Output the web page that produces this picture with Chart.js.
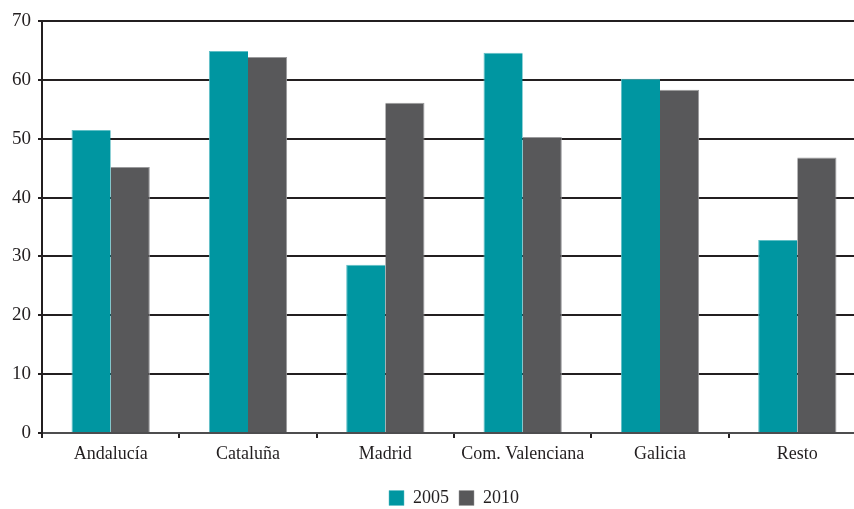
<!DOCTYPE html>
<html>
<head>
<meta charset="utf-8">
<script src="https://cdn.jsdelivr.net/npm/chart.js@4/dist/chart.umd.min.js"></script>
<style>
  html, body { margin: 0; padding: 0; background: #fff; }
  /* the reference plot runs past the right and bottom edges, so the canvas is a bit larger and clipped */
  #wrap { width: 854px; height: 509px; overflow: hidden; }
</style>
</head>
<body>
<div id="wrap"><canvas id="regionChart" width="866" height="517"></canvas></div>
<script>
// data
const regions = ['Andalucía', 'Cataluña', 'Madrid', 'Com. Valenciana', 'Galicia', 'Resto'];
const values2005 = [51.5, 64.9, 28.6, 64.6, 60.2, 32.8];
const values2010 = [45.2, 63.9, 56.1, 50.3, 58.3, 46.8];
const yTicks = [0, 10, 20, 30, 40, 50, 60, 70];

const serif = '"Liberation Serif", "DejaVu Serif", serif';
const teal = '#0096a1';
const grey = '#58585a';

new Chart(document.getElementById('regionChart'), {
  type: 'bar',
  data: {
    labels: regions,
    datasets: [
      { label: '2005', data: values2005, backgroundColor: teal, borderColor: '#5fbfc6', borderWidth: { top: 1, left: 1, right: 0, bottom: 0 }, borderSkipped: 'bottom' },
      { label: '2010', data: values2010, backgroundColor: grey, borderColor: '#9a9a9c', borderWidth: { top: 1, left: 0, right: 1, bottom: 0 }, borderSkipped: 'bottom' }
    ]
  },
  options: {
    responsive: false,
    animation: false,
    layout: { padding: { top: 21, right: 0, left: 0, bottom: 0 } },
    datasets: {
      bar: { categoryPercentage: 0.57, barPercentage: 1.0 }
    },
    plugins: {
      tooltip: { enabled: false },
      legend: {
        position: 'bottom',
        fullSize: false, // centred under the plot area, like the reference
        labels: {
          boxWidth: 15,
          boxHeight: 15,
          padding: 10,
          color: '#231f20',
          font: { family: serif, size: 18 }
        }
      }
    },
    scales: {
      x: {
        grid: {
          offset: true,
          drawOnChartArea: false,
          drawTicks: true,
          tickLength: 5,
          color: '#231f20',
          lineWidth: 2
        },
        border: { color: '#4d4d4f', width: 2 },
        ticks: {
          color: '#231f20',
          padding: 5,
          font: { family: serif, size: 18 }
        },
        afterFit(scale) { scale.height = 46; }
      },
      y: {
        min: 0,
        max: 70,
        afterBuildTicks(scale) { scale.ticks = yTicks.map(v => ({ value: v })); },
        grid: {
          color: '#231f20',
          lineWidth: 2,
          drawTicks: true,
          tickLength: 4
        },
        border: { color: '#231f20', width: 2 },
        ticks: {
          color: '#231f20',
          padding: 7,
          font: { family: serif, size: 19 }
        },
        afterFit(scale) { scale.width = 42; }
      }
    }
  }
});
</script>
</body>
</html>
